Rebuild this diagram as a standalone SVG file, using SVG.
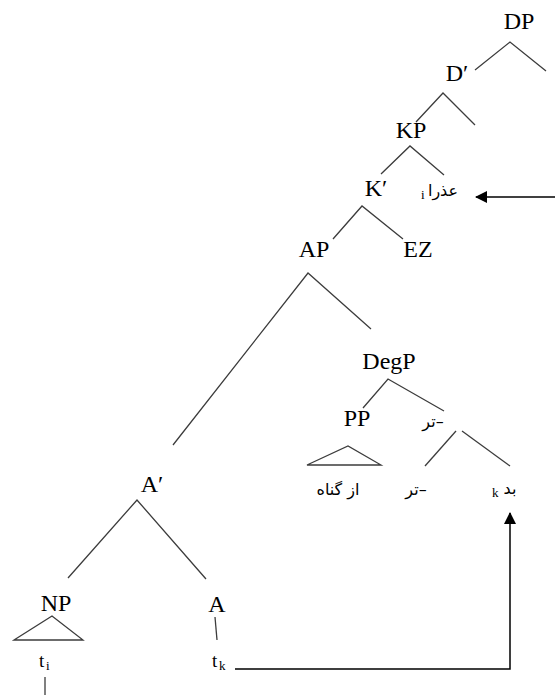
<svg xmlns="http://www.w3.org/2000/svg" width="555" height="695" viewBox="0 0 555 695">
<style>
.lbl{font-family:"Liberation Serif","DejaVu Serif","Times New Roman",serif;font-size:24px;fill:#000;text-anchor:middle}
.fa{font-family:"DejaVu Sans",sans-serif;font-size:16px;fill:#000;text-anchor:middle}
.t{font-family:"Liberation Serif","DejaVu Serif",serif;font-size:19px;fill:#000}
.sub{font-family:"Liberation Serif","DejaVu Serif",serif;font-size:13px;fill:#000}
.br{stroke:#3c3c3c;stroke-width:1.3;fill:none}
.ar{stroke:#000;stroke-width:1.5;fill:none}
</style>
<defs>
<marker id="ah" markerWidth="12" markerHeight="12" refX="11" refY="6" orient="auto" markerUnits="userSpaceOnUse" viewBox="0 0 12 12">
<path d="M0,0 L12,6 L0,12 z" fill="#000"/>
</marker>
</defs>
<g id="DP"><text class="lbl" x="519" y="29">DP</text></g>
<g id="Dbar"><text class="lbl" x="457" y="81">D′</text></g>
<g id="KP"><text class="lbl" x="411" y="138">KP</text></g>
<g id="Kbar"><text class="lbl" x="376" y="196">K′</text></g>
<g id="ozra"><text class="fa" x="443" y="196" direction="rtl">عذرا</text><text class="sub" x="421" y="199">i</text></g>
<g id="AP"><text class="lbl" x="314" y="257">AP</text></g>
<g id="EZ"><text class="lbl" x="418" y="257">EZ</text></g>
<g id="DegP"><text class="lbl" x="389" y="369">DegP</text></g>
<g id="PP"><text class="lbl" x="357" y="426">PP</text></g>
<g id="tar1"><text class="fa" x="433" y="427" direction="rtl">–تر</text></g>
<g id="azgonah"><text class="fa" x="338" y="495" direction="rtl">از گناه</text></g>
<g id="tar2"><text class="fa" x="416" y="495" direction="rtl">–تر</text></g>
<g id="bad"><text class="fa" x="510" y="494" direction="rtl">بد</text><text class="sub" x="492" y="497">k</text></g>
<g id="Abar"><text class="lbl" x="152" y="492">A′</text></g>
<g id="NP"><text class="lbl" x="56" y="611">NP</text></g>
<g id="A"><text class="lbl" x="217" y="612">A</text></g>
<g id="ti"><text class="t" x="39" y="667">t</text><text class="sub" x="46" y="670">i</text></g>
<g id="tk"><text class="t" x="212" y="667">t</text><text class="sub" x="219" y="670">k</text></g>
<g id="connectors">
<path class="br" d="M475,70 L510,42 L546,71"/>
<path class="br" d="M416,122 L443,93 L475,125"/>
<path class="br" d="M381,174 L410,146 L444,175"/>
<path class="br" d="M333,239 L362,206 L403,239"/>
<path class="br" d="M173,445 L308,273 L371,329"/>
<path class="br" d="M363,408 L388,379 L444,411"/>
<path class="br" d="M307,465 L348,446 L381,465 Z"/>
<path class="br" d="M456,431 L425,466"/>
<path class="br" d="M462,431 L510,466"/>
<path class="br" d="M68,578 L137,500 L206,579"/>
<path class="br" d="M14,640 L52,616 L83,640 Z"/>
<path class="br" d="M215,617 L217,640"/>
<path class="br" d="M45,677 L45,695"/>
<path class="ar" d="M555,197 L476,197" marker-end="url(#ah)"/>
<path class="ar" d="M235,669 L510,669 L510,513" marker-end="url(#ah)"/>
</g>
</svg>
